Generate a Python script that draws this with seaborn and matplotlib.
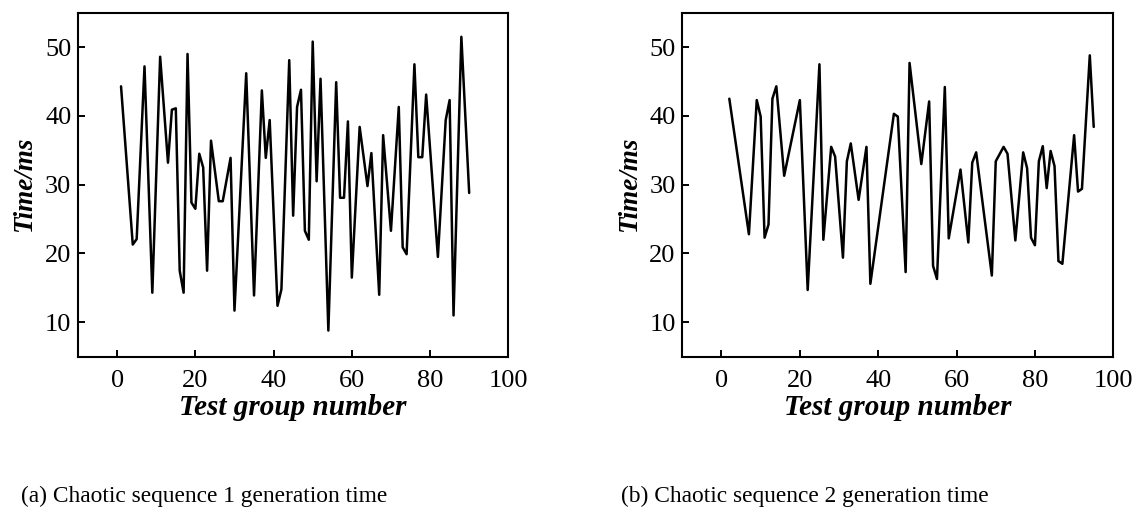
import numpy as np
import pandas as pd
import matplotlib
matplotlib.use("Agg")
import matplotlib.pyplot as plt
import seaborn as sns

# ---- data ----
x1 = [1, 4, 5, 7, 9, 11, 13, 14, 15, 16, 17, 18, 19, 20, 21, 22, 23, 24, 26, 27,
      29, 30, 33, 35, 37, 38, 39, 41, 42, 44, 45, 46, 47, 48, 49, 50, 51, 52, 54, 56,
      57, 58, 59, 60, 62, 64, 65, 67, 68, 70, 72, 73, 74, 76, 77, 78, 79, 82, 84, 85,
      86, 88, 90]
y1 = [44.3, 21.3, 22.1, 47.2, 14.3, 48.6, 33.2, 40.9, 41.1, 17.5, 14.3, 49.0, 27.4, 26.5, 34.5, 32.5, 17.5, 36.4, 27.6, 27.6,
      33.9, 11.7, 46.2, 13.9, 43.7, 33.9, 39.4, 12.4, 14.8, 48.1, 25.5, 41.3, 43.8, 23.3, 22.0, 50.8, 30.5, 45.4, 8.8, 44.9,
      28.1, 28.1, 39.2, 16.5, 38.4, 29.8, 34.6, 14.0, 37.2, 23.3, 41.3, 20.9, 19.9, 47.5, 34.0, 34.0, 43.1, 19.5, 39.4, 42.3,
      11.0, 51.5, 28.8]

x2 = [2, 7, 9, 10, 11, 12, 13, 14, 16, 20, 22, 25, 26, 28, 29, 31, 32, 33, 35, 37,
      38, 44, 45, 47, 48, 51, 53, 54, 55, 57, 58, 61, 63, 64, 65, 69, 70, 72, 73, 75,
      77, 78, 79, 80, 81, 82, 83, 84, 85, 86, 87, 90, 91, 92, 94, 95]
y2 = [42.5, 22.8, 42.3, 39.9, 22.3, 24.2, 42.5, 44.3, 31.3, 42.3, 14.7, 47.5, 22.0, 35.5, 34.1, 19.4, 33.4, 36.0, 27.8, 35.5,
      15.6, 40.3, 39.9, 17.3, 47.7, 33.0, 42.1, 18.2, 16.3, 44.2, 22.2, 32.2, 21.6, 33.2, 34.7, 16.8, 33.4, 35.5, 34.5, 21.9,
      34.7, 32.4, 22.3, 21.2, 33.4, 35.6, 29.5, 34.9, 32.7, 18.9, 18.5, 37.2, 29.0, 29.4, 48.8, 38.4]

xticks = [0, 20, 40, 60, 80, 100]
yticks = [10, 20, 30, 40, 50]
xlabel = "Test group number"
ylabel = "Time/ms"
captions = ["(a) Chaotic sequence 1 generation time",
            "(b) Chaotic sequence 2 generation time"]

sns.set_style("ticks")
plt.rcParams['font.family'] = ['Liberation Serif', 'DejaVu Serif']
plt.rcParams['text.color'] = 'black'
plt.rcParams['axes.labelcolor'] = 'black'
plt.rcParams['xtick.color'] = 'black'
plt.rcParams['ytick.color'] = 'black'
plt.rcParams['axes.edgecolor'] = 'black'

W, H = 1137, 508
fig = plt.figure(figsize=(W / 100, H / 100), dpi=100)

boxes = [(78, 12.7, 508.3, 356.7), (682.3, 12.7, 1113.3, 356.7)]
series = [(x1, y1), (x2, y2)]
cap_x = [20.7, 620.7]

for (l, t, r, b), (xs, ys), cap, cx in zip(boxes, series, captions, cap_x):
    ax = fig.add_axes([l / W, 1 - b / H, (r - l) / W, (b - t) / H])
    df = pd.DataFrame({"x": xs, "y": ys})
    sns.lineplot(data=df, x="x", y="y", ax=ax, color="black", linewidth=1.8,
                 sort=False, estimator=None)
    ax.set_xlim(-10, 100)
    ax.set_ylim(5, 55)
    ax.set_xticks(xticks)
    ax.set_yticks(yticks)
    ax.tick_params(direction="in", length=5, width=1.4, labelsize=19,
                   top=False, right=False, colors="black")
    ax.tick_params(axis="x", pad=9.5)
    ax.tick_params(axis="y", pad=4.75)
    for s in ax.spines.values():
        s.set_linewidth(1.5)
        s.set_visible(True)
        s.set_color("black")
    ax.set_xlabel(xlabel, fontsize=21, fontweight="bold", fontstyle="italic",
                  labelpad=1.5, color="black")
    ax.set_ylabel(ylabel, fontsize=19.5, fontweight="bold", fontstyle="italic",
                  labelpad=5.5, color="black")
    fig.text(cx / W, 1 - 501.7 / H, cap, ha="left", va="baseline", fontsize=16.8,
             color="black")

fig.savefig("out.png", dpi=100)
